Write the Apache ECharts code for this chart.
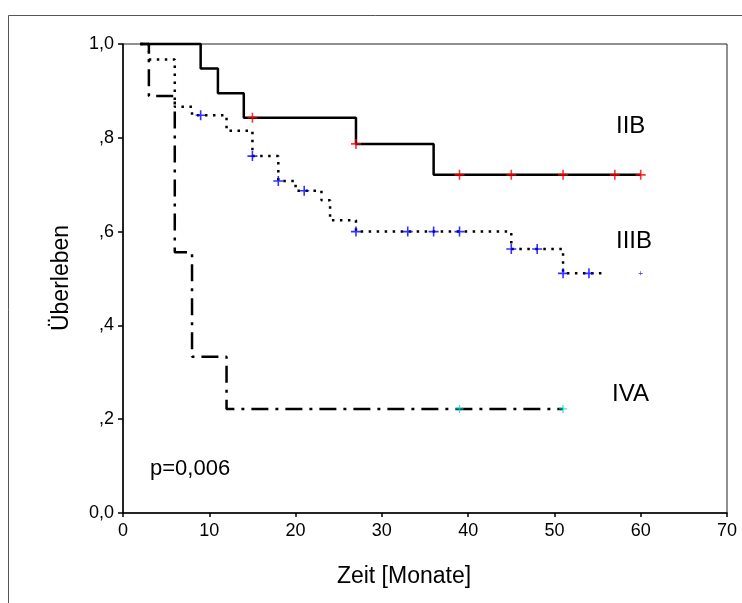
<!DOCTYPE html>
<html><head><meta charset="utf-8">
<script src="https://cdn.jsdelivr.net/npm/echarts@6/dist/echarts.min.js"></script>
<style>html,body{margin:0;padding:0;background:#fff}#c{width:742px;height:603px}</style>
</head><body><div id="c"></div>
<script>
// ---- data ----
const xTicks = [0, 10, 20, 30, 40, 50, 60, 70];
const yTickLabels = {"0": "0,0", "0.2": ",2", "0.4": ",4", "0.6": ",6", "0.8": ",8", "1": "1,0"};

const iibTimes = [2, 9, 11, 14, 27, 36, 60];
const iibSurv  = [1.0, 0.948, 0.895, 0.843, 0.787, 0.721, 0.721];
const iibCensT = [15, 27, 39, 45, 51, 57, 60];
const iibCensS = [0.843, 0.787, 0.721, 0.721, 0.721, 0.721, 0.721];

const iiibTimes = [2, 3, 6, 8, 12, 15, 18, 20, 23, 24, 27, 45, 51, 55.5];
const iiibSurv  = [1.0, 0.967, 0.866, 0.848, 0.815, 0.761, 0.708, 0.687, 0.667, 0.624, 0.600, 0.563, 0.511, 0.511];
const iiibCensT = [9, 15, 18, 21, 27, 33, 36, 39, 45, 48, 51, 54, 60];
const iiibCensS = [0.848, 0.761, 0.708, 0.687, 0.600, 0.600, 0.600, 0.600, 0.563, 0.563, 0.511, 0.511, 0.511];

const ivaTimes = [2, 3, 6, 8, 12, 51];
const ivaSurv  = [1.0, 0.889, 0.556, 0.333, 0.222, 0.222];
const ivaCensT = [39, 51];
const ivaCensS = [0.222, 0.222];

const groupLabels = ["IIB", "IIIB", "IVA"];
const pText = "p=0,006";
const xTitle = "Zeit [Monate]";
const yTitle = "Überleben";

// ---- build ----
const zip = (a, b) => a.map((v, i) => [v, b[i]]);
const plus = 'path://M4.2,0H5.8V4.2H10V5.8H5.8V10H4.2V5.8H0V4.2H4.2Z';
const FONT = '"Liberation Sans", Arial, sans-serif';

const chart = echarts.init(document.getElementById('c'), null, {renderer: 'canvas'});
chart.setOption({
  animation: false,
  backgroundColor: '#fff',
  grid: {left: 123, top: 44, right: 15, bottom: 90, show: true, borderColor: '#222', borderWidth: 1, backgroundColor: 'transparent'},
  xAxis: {
    type: 'value', min: 0, max: 70, interval: 10,
    axisLine: {show: true, onZero: false, lineStyle: {color: '#000', width: 1.5}},
    axisTick: {show: true, length: 4, lineStyle: {color: '#000', width: 1.5}},
    splitLine: {show: false},
    axisLabel: {color: '#000', fontFamily: FONT, fontSize: 18, margin: 9}
  },
  yAxis: {
    type: 'value', min: 0, max: 1, interval: 0.2,
    axisLine: {show: true, onZero: false, lineStyle: {color: '#000', width: 1.5}},
    axisTick: {show: true, length: 5, lineStyle: {color: '#000', width: 1.5}},
    splitLine: {show: false},
    axisLabel: {color: '#000', fontFamily: FONT, fontSize: 18, margin: 9,
      formatter: v => yTickLabels[String(Math.round(v * 10) / 10)]}
  },
  graphic: [
    {type: 'rect', shape: {x: 8.5, y: 15.5, width: 900, height: 900}, style: {fill: 'none', stroke: '#555', lineWidth: 1}, silent: true, z: -10},
    {type: 'text', left: 616, top: 114, style: {text: groupLabels[0], font: '24px ' + FONT, fill: '#000'}},
    {type: 'text', left: 616, top: 229, style: {text: groupLabels[1], font: '24px ' + FONT, fill: '#000'}},
    {type: 'text', left: 612, top: 382, style: {text: groupLabels[2], font: '24px ' + FONT, fill: '#000'}},
    {type: 'text', left: 150, top: 458, style: {text: pText, font: '22px ' + FONT, fill: '#000'}},
    {type: 'text', x: 404, y: 577, style: {text: xTitle, font: '23px ' + FONT, fill: '#000', textAlign: 'center', textVerticalAlign: 'middle'}},
    {type: 'text', x: 62, y: 278, rotation: Math.PI / 2, style: {text: yTitle, font: '23px ' + FONT, fill: '#000', textAlign: 'center', textVerticalAlign: 'middle'}}
  ],
  series: [
    {type: 'line', step: 'end', data: zip(iibTimes, iibSurv), showSymbol: false, clip: false, z: 3,
     lineStyle: {color: '#000', width: 2.5, type: 'solid'}},
    {type: 'line', step: 'end', data: zip(iiibTimes, iiibSurv), showSymbol: false, clip: false, z: 3,
     lineStyle: {color: '#000', width: 2.5, type: [2.5, 5.5], cap: 'butt'}},
    {type: 'line', step: 'end', data: zip(ivaTimes, ivaSurv), showSymbol: false, clip: false, z: 3,
     lineStyle: {color: '#000', width: 2.5, type: [17, 7, 3, 7], cap: 'butt'}},
    {type: 'scatter', data: zip(iibCensT, iibCensS), symbol: plus, symbolSize: 10, itemStyle: {color: '#ff0000'}, z: 5},
    {type: 'scatter', data: zip(iiibCensT, iiibCensS), symbol: plus,
     symbolSize: (v, p) => (p.dataIndex === iiibCensT.length - 1 ? 4 : 10), itemStyle: {color: '#0000ff'}, z: 5},
    {type: 'scatter', data: zip(ivaCensT, ivaCensS), symbol: plus, symbolSize: 8, itemStyle: {color: '#00e0e0'}, z: 5}
  ]
});
</script></body></html>
